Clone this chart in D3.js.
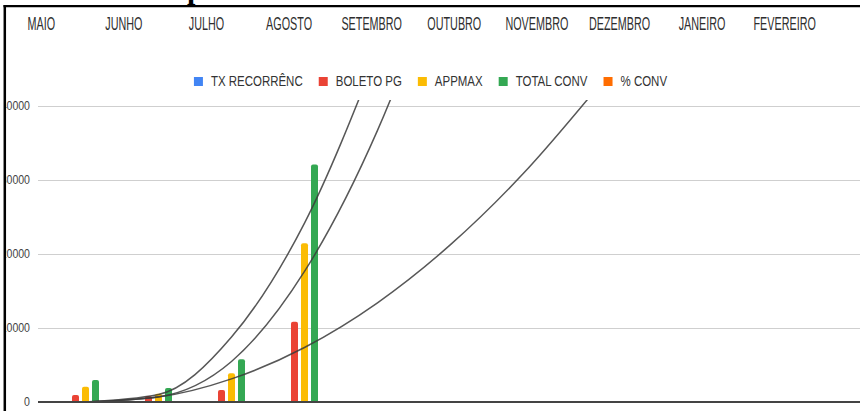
<!DOCTYPE html>
<html>
<head>
<meta charset="utf-8">
<script src="https://cdn.jsdelivr.net/npm/d3@7"></script>
<style>
  body { margin: 0; background: #fff; }
  svg { display: block; }
</style>
</head>
<body>
<div id="chart"></div>
<script>
// sheet header row / chart categories
var months = ["MAIO", "JUNHO", "JULHO", "AGOSTO", "SETEMBRO", "OUTUBRO", "NOVEMBRO", "DEZEMBRO", "JANEIRO", "FEVEREIRO"];
var seriesNames = ["TX RECORRÊNC", "BOLETO PG", "APPMAX", "TOTAL CONV", "% CONV"];
var seriesColors = ["#4285f4", "#ea4335", "#fbbc04", "#34a853", "#ff6d01"];

// values (MAIO..AGOSTO)
var txRecorrenc = [0, 0, 0, 0];
var boletoPg = [950, 800, 1620, 10850];
var appmax = [2070, 1100, 3880, 21450];
var totalConv = [2970, 1900, 5770, 32100];
var pctConv = [0, 0, 0, 0];

var yTicks = [0, 10000, 20000, 30000, 40000];

// trendline readings at each month position
var trendBoleto = [0, 670, 3120, 7370, 13410, 21260, 30900, 42350];
var trendAppmax = [0, 700, 5480, 17640, 36700, 62700];
var trendTotal = [0, 1010, 8770, 24170, 47220];

//=================== SETUP ====================================
var width = 860, height = 411;
var plot = {left: 38, right: 860, top: 106, bottom: 402};

var svg = d3.select("#chart").append("svg")
	.attr("width", width)
	.attr("height", height);

var allSeries = [txRecorrenc, boletoPg, appmax, totalConv, pctConv];

var x = d3.scaleBand()
	.domain(months)
	.range([49, 49 + 73 * months.length])
	.paddingInner(0.356)
	.paddingOuter(0.178);

var xs = d3.scaleBand()
	.domain(seriesNames)
	.range([0, x.bandwidth()])
	.paddingInner(0.3);

var y = d3.scaleLinear()
	.domain([0, 40000])
	.range([plot.bottom, plot.top]);

var headerX = d3.scaleBand().domain(months).range([0, 826]);

//=================== HEADER ====================================
// bit of the title cut off above the frame
svg.append("text")
	.attr("x", 187).attr("y", -1)
	.style("font-family", "'Liberation Serif', serif")
	.style("font-weight", "bold")
	.style("font-size", "30px")
	.text("p");

svg.append("g").selectAll("text")
	.data(months)
	.enter().append("text")
	.attr("transform", function(d){
		return "translate(" + (headerX(d) + headerX.bandwidth() / 2) + ",30) scale(0.6,1)";
	})
	.attr("text-anchor", "middle")
	.style("font-family", "'Liberation Sans', Arial, sans-serif")
	.style("font-size", "18px")
	.attr("fill", "#2e2e2e")
	.text(function(d){ return d; });

//=================== LEGEND ====================================
var legend = svg.append("g");
var items = legend.selectAll("g.item")
	.data(seriesNames)
	.enter().append("g").classed("item", true);

items.append("rect")
	.attr("width", 9).attr("height", 9)
	.attr("y", 77)
	.attr("fill", function(d, i){ return seriesColors[i]; });

items.append("text")
	.attr("y", 86)
	.style("font-family", "'Liberation Sans', Arial, sans-serif")
	.style("font-size", "15px")
	.attr("fill", "#333")
	.text(function(d){ return d; });

var legendScale = 0.765, itemGap = 16, cursor = 0, positions = [];
items.each(function(d){
	var tw = d3.select(this).select("text").node().getComputedTextLength() * legendScale;
	positions.push(cursor);
	cursor += 9 + 8 + tw + itemGap;
});
var legendStart = 430.5 - (cursor - itemGap) / 2;
items.each(function(d, i){
	var g = d3.select(this);
	var x0 = legendStart + positions[i];
	g.select("rect").attr("x", x0);
	g.select("text").attr("transform", "translate(" + (x0 + 17) + ",0) scale(" + legendScale + ",1)");
});

//=================== GRID + AXIS ====================================
svg.append("g").selectAll("line")
	.data(yTicks.filter(function(d){ return d > 0; }))
	.enter().append("line")
	.attr("x1", plot.left).attr("x2", plot.right)
	.attr("y1", function(d){ return Math.round(y(d)) + 0.5; })
	.attr("y2", function(d){ return Math.round(y(d)) + 0.5; })
	.attr("stroke", "#cfcfcf");

svg.append("g").selectAll("text")
	.data(yTicks)
	.enter().append("text")
	.attr("transform", function(d){ return "translate(30," + (y(d) + 4) + ") scale(0.88,1)"; })
	.attr("text-anchor", "end")
	.style("font-family", "'Liberation Sans', Arial, sans-serif")
	.style("font-size", "12px")
	.attr("fill", "#444")
	.text(function(d){ return d; });

//=================== BARS ====================================
function barPath(x0, y0, w, h, r){
	if (h <= 0) return "";
	r = Math.min(r, w / 2, h);
	return "M" + x0 + "," + (y0 + h) + "V" + (y0 + r)
		+ "Q" + x0 + "," + y0 + " " + (x0 + r) + "," + y0
		+ "H" + (x0 + w - r)
		+ "Q" + (x0 + w) + "," + y0 + " " + (x0 + w) + "," + (y0 + r)
		+ "V" + (y0 + h) + "Z";
}

var barData = [];
allSeries.forEach(function(values, s){
	values.forEach(function(v, i){
		barData.push({month: months[i], series: seriesNames[s], color: seriesColors[s], value: v});
	});
});

svg.append("g").selectAll("path")
	.data(barData)
	.enter().append("path")
	.attr("fill", function(d){ return d.color; })
	.attr("d", function(d){
		var x0 = x(d.month) + xs(d.series);
		return barPath(x0, y(d.value), xs.bandwidth(), y(0) - y(d.value), 2);
	});

//=================== TRENDLINES ====================================
svg.append("clipPath").attr("id", "plotClip")
	.append("rect")
	.attr("x", plot.left).attr("y", 100)
	.attr("width", plot.right - plot.left).attr("height", plot.bottom - 100);

var trendLine = d3.line()
	.x(function(d, i){ return x(months[i]) + x.bandwidth() / 2; })
	.y(function(d){ return y(d); })
	.curve(d3.curveMonotoneX);

svg.append("g")
	.attr("clip-path", "url(#plotClip)")
	.selectAll("path")
	.data([trendBoleto, trendAppmax, trendTotal])
	.enter().append("path")
	.attr("d", trendLine)
	.attr("fill", "none")
	.attr("stroke", "#3a3a3a")
	.attr("stroke-opacity", 0.85)
	.attr("stroke-width", 1.5);

// baseline
svg.append("line")
	.attr("x1", plot.left).attr("x2", plot.right)
	.attr("y1", y(0)).attr("y2", y(0))
	.attr("stroke", "#444")
	.attr("stroke-width", 2);

//=================== FRAME ====================================
// the screenshot is cropped at the left: leading digits sit under the frame
svg.append("rect")
	.attr("x", 0).attr("y", 0)
	.attr("width", 4).attr("height", height)
	.attr("fill", "#fff");

svg.append("line")
	.attr("x1", 3.5).attr("x2", width)
	.attr("y1", 6.2).attr("y2", 6.2)
	.attr("stroke", "#000").attr("stroke-width", 2.3);

svg.append("line")
	.attr("x1", 4.8).attr("x2", 4.8)
	.attr("y1", 5).attr("y2", height)
	.attr("stroke", "#000").attr("stroke-width", 2.5);
</script>
</body>
</html>
